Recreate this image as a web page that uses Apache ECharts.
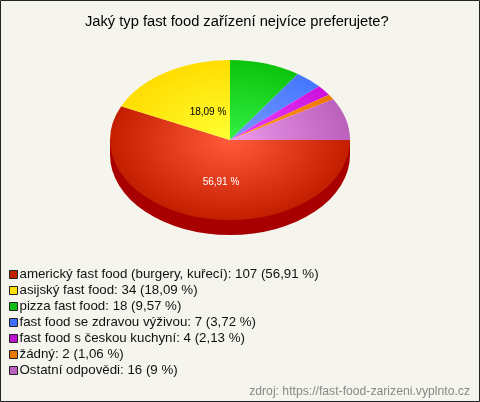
<!DOCTYPE html>
<html><head><meta charset="utf-8">
<style>html,body{margin:0;padding:0;background:#f5f5ee}#c{width:480px;height:402px}</style>
<script src="https://cdn.jsdelivr.net/npm/echarts@6/dist/echarts.min.js"></script>
</head><body><div id="c"></div>
<script>
const categories = ['americký fast food (burgery, kuřecí)','asijský fast food','pizza fast food','fast food se zdravou výživou','fast food s českou kuchyní','žádný','Ostatní odpovědi'];
const counts = [107,34,18,7,4,2,16];
const percentLabels = ['56,91 %','18,09 %','9,57 %','3,72 %','2,13 %','1,06 %','9 %'];
const showOnSlice = ['56,91 %','18,09 %'];
const legendColors = ['#c02000','#ffe000','#10c010','#4070ff','#c010d0','#e87800','#c060c0'];
const innerColors = ['#ff5a3c','#ffff33','#33f044','#7799ff','#ee44ff','#ff9911','#ee99ee'];
const outerColors = ['#c41e00','#ffdd00','#0cc40c','#4477ff','#cc11dd','#ee7700','#bb60bb'];
const sideColors = ['#a80000','#c0a000','#089008','#2850c0','#900aa0','#b05800','#8a4a8a'];

const W=480,H=402,CX=230,CY=140,RX=120,RY=80,DEPTH=15;
const total = counts.reduce((a,b)=>a+b,0);
const labelOffsets = [[-9,42],[-22,-28]];
const chart = echarts.init(document.getElementById('c'),null,{renderer:'canvas'});
let acc=0;
const series = categories.map((name,i)=>{
  const start = acc/total*Math.PI*2; acc+=counts[i];
  const end = acc/total*Math.PI*2;
  const legendName = name+': '+counts[i]+' ('+percentLabels[i]+')';
  return {
    type:'custom', name:legendName, coordinateSystem:'none', silent:true,
    itemStyle:{color:legendColors[i]},
    data:[counts[i]],
    renderItem(){
      const k=RY/RX, children=[];
      const frontStart=Math.min(start,Math.PI), frontEnd=Math.min(end,Math.PI);
      if(frontEnd>frontStart){
        const x1=RX*Math.cos(frontEnd), x2=RX*Math.cos(frontStart);
        children.push({type:'rect',x:CX,y:CY,shape:{x:x1,y:0,width:x2-x1,height:DEPTH},style:{fill:sideColors[i]}});
        children.push({type:'group',x:CX,y:CY+DEPTH,scaleY:k,children:[
          {type:'sector',shape:{cx:0,cy:0,r:RX,startAngle:frontStart,endAngle:frontEnd,clockwise:true},style:{fill:sideColors[i]}}]});
      }
      children.push({type:'group',x:CX,y:CY,scaleY:k,children:[
        {type:'sector',shape:{cx:0,cy:0,r:RX,startAngle:start,endAngle:end,clockwise:true},
         style:{fill:new echarts.graphic.RadialGradient(0,0,RX,[{offset:0,color:innerColors[i]},{offset:1,color:outerColors[i]}],true)}}]});
      const li=showOnSlice.indexOf(percentLabels[i]);
      if(li>=0){
        children.push({type:'text',x:CX+labelOffsets[li][0],y:CY+labelOffsets[li][1],
          style:{text:percentLabels[i],fill:i===0?'#ffffff':'#000000',font:'10px "Liberation Sans", Arial, sans-serif',textAlign:'center',textVerticalAlign:'middle'}});
      }
      return {type:'group',children};
    }
  };
});
chart.setOption({
  animation:false,
  backgroundColor:'#f5f5ee',
  title:{text:'Jaký typ fast food zařízení nejvíce preferujete?',left:85,top:9,padding:[5,0,5,0],
    textStyle:{fontFamily:'"Liberation Sans", Arial, sans-serif',fontSize:14.7,fontWeight:'normal',color:'#000'}},
  legend:{orient:'vertical',left:9,top:268,padding:0,itemWidth:8,itemHeight:8,itemGap:3,icon:'rect',selectedMode:false,
    itemStyle:{borderColor:'#222',borderWidth:1},
    textStyle:{fontFamily:'"Liberation Sans", Arial, sans-serif',fontSize:13.3,lineHeight:13,color:'#111',padding:[0,0,0,-3]}},
  graphic:[
    {type:'rect',silent:true,z:-1,shape:{x:0.5,y:0.5,width:W-1,height:H-1},style:{fill:'none',stroke:'#222',lineWidth:1}},
    {type:'text',silent:true,right:10,top:386,style:{text:'zdroj: https://fast-food-zarizeni.vyplnto.cz',fill:'#888',font:'12.2px "Liberation Sans", Arial, sans-serif'}}
  ],
  series
});
</script></body></html>
